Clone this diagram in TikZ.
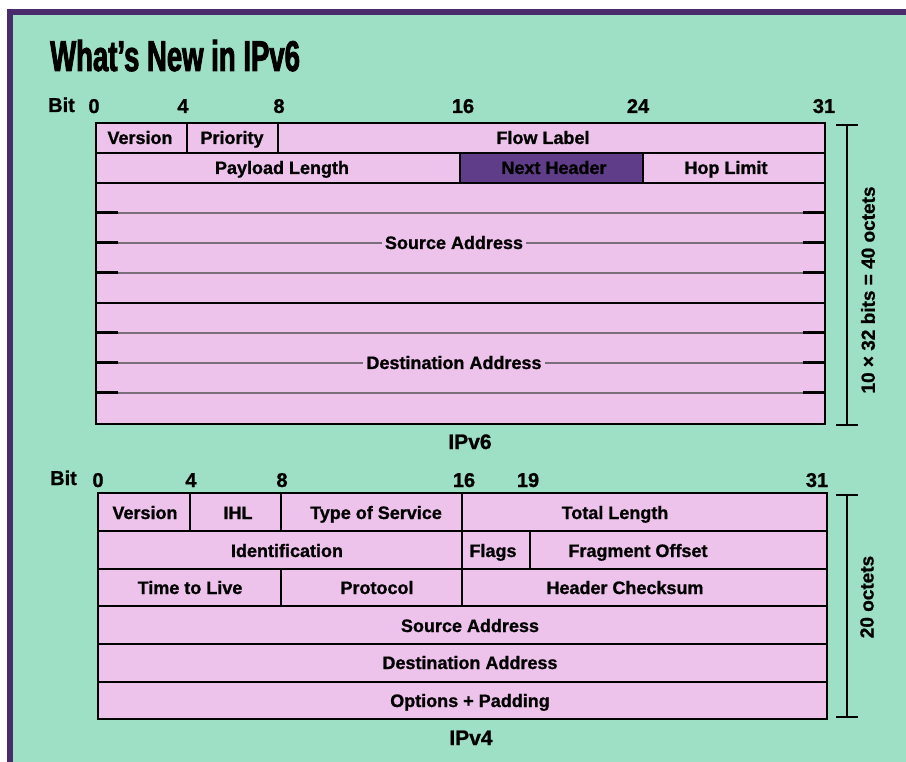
\documentclass[tikz,border=0pt]{standalone}
\usepackage{fontspec}
\setmainfont{Liberation Sans}[BoldFeatures={FakeBold=1}]
\newfontfamily\titlefont[FakeStretch=0.64, BoldFeatures={FakeBold=2}]{Liberation Sans}
\usetikzlibrary{positioning}

\definecolor{mint}{HTML}{9EE0C5}
\definecolor{frame}{HTML}{4A2C6C}
\definecolor{field}{HTML}{EDC3EB}
\definecolor{nexthdr}{HTML}{5F3D88}
\definecolor{rulegrey}{HTML}{7B6E7B}

\tikzset{
  cellline/.style={line width=2.6pt, line cap=rect},
  lbl/.style={font=\bfseries\fontsize{18}{20}\selectfont, anchor=base, inner sep=0pt},
  addr/.style={lbl, fill=field, inner xsep=3pt},
  bitno/.style={font=\bfseries\fontsize{20}{22}\selectfont, anchor=base, inner sep=0pt},
  caption/.style={font=\bfseries\fontsize{21}{24}\selectfont, anchor=base, inner sep=0pt},
  sidenote/.style={font=\bfseries\fontsize{19}{22}\selectfont, rotate=90, inner sep=0pt},
  brace/.style={line width=2.6pt},
  greyrule/.style={draw=rulegrey, line width=2pt},
  tickmark/.style={line width=3pt}
}

\begin{document}
\begin{tikzpicture}[x=1pt, y=-1pt]

  % background and frame
  \useasboundingbox (0,0) rectangle (906,762);
  \fill[white] (0,0) rectangle (906,762);
  \fill[frame] (7,9) rectangle (906,762);
  \fill[mint] (13,15) rectangle (906,762);

  \node[font=\titlefont\bfseries\fontsize{43}{48}\selectfont, anchor=base west, inner sep=0pt] (title) at (50,71) {What’s New in IPv6};

  % ---------------- IPv6 ----------------
  \node[bitno, anchor=base west] (bit6) at (48,112) {Bit};
  \node[bitno] (b6n0) at (94,113) {0};
  \node[bitno] (b6n4) at (183,113) {4};
  \node[bitno] (b6n8) at (279,113) {8};
  \node[bitno] (b6n16) at (463,113) {16};
  \node[bitno] (b6n24) at (638,113) {24};
  \node[bitno] (b6n31) at (824,113) {31};

  \fill[field] (96,123) rectangle (825,424);
  \fill[nexthdr] (460,153) rectangle (643,183);

  \foreach \y in {213,243,273,333,363,393} {
    \draw[greyrule] (118,\y) -- (803,\y);
    \draw[tickmark] (96,\y) -- (118,\y);
    \draw[tickmark] (803,\y) -- (825,\y);
  }

  \draw[cellline] (96,153) -- (825,153);
  \draw[cellline] (96,183) -- (825,183);
  \draw[cellline] (96,303) -- (825,303);
  \draw[cellline] (187,123) -- (187,153);
  \draw[cellline] (278,123) -- (278,153);
  \draw[cellline] (460,153) -- (460,183);
  \draw[cellline] (643,153) -- (643,183);
  \draw[cellline] (96,123) rectangle (825,424);

  \node[lbl] (ver6) at (140,144) {Version};
  \node[lbl] (prio) at (232,144) {Priority};
  \node[lbl] (flow) at (543,144) {Flow Label};
  \node[lbl] (paylen) at (282,174) {Payload Length};
  \node[lbl] (nxthdr) at (554,174) {Next Header};
  \node[lbl] (hoplim) at (726,174) {Hop Limit};
  \node[addr] (src6) at (454,249) {Source Address};
  \node[addr] (dst6) at (454,369) {Destination Address};

  \node[caption] (cap6) at (470,449) {IPv6};

  \coordinate (br6top) at (847,125);
  \coordinate (br6bot) at (847,425);
  \draw[brace] ([xshift=-11pt]br6top) -- ([xshift=11pt]br6top);
  \draw[brace] (br6top) -- (br6bot);
  \draw[brace] ([xshift=-11pt]br6bot) -- ([xshift=11pt]br6bot);
  \node[sidenote] (size6) at (868,290) {10 × 32 bits = 40 octets};

  % ---------------- IPv4 ----------------
  \node[bitno, anchor=base west] (bit4) at (50,485) {Bit};
  \node[bitno] (b4n0) at (98,487) {0};
  \node[bitno] (b4n4) at (191,487) {4};
  \node[bitno] (b4n8) at (282,487) {8};
  \node[bitno] (b4n16) at (464,487) {16};
  \node[bitno] (b4n19) at (528,487) {19};
  \node[bitno] (b4n31) at (817,487) {31};

  \fill[field] (98,493) rectangle (827,719);

  \foreach \y in {531,569,606,644,682}
    \draw[cellline] (98,\y) -- (827,\y);
  \draw[cellline] (190,493) -- (190,531);
  \draw[cellline] (281,493) -- (281,531);
  \draw[cellline] (281,569) -- (281,606);
  \draw[cellline] (462,493) -- (462,606);
  \draw[cellline] (530,531) -- (530,569);
  \draw[cellline] (98,493) rectangle (827,719);

  \node[lbl] (ver4) at (145,519) {Version};
  \node[lbl] (ihl) at (238,519) {IHL};
  \node[lbl] (tos) at (376,519) {Type of Service};
  \node[lbl] (totlen) at (615,519) {Total Length};
  \node[lbl] (ident) at (287,557) {Identification};
  \node[lbl] (flags) at (493,557) {Flags};
  \node[lbl] (fragoff) at (638,557) {Fragment Offset};
  \node[lbl] (ttl) at (190,594) {Time to Live};
  \node[lbl] (proto) at (377,594) {Protocol};
  \node[lbl] (chksum) at (625,594) {Header Checksum};
  \node[lbl] (src4) at (470,632) {Source Address};
  \node[lbl] (dst4) at (470,669) {Destination Address};
  \node[lbl] (opts) at (470,707) {Options + Padding};

  \node[caption] (cap4) at (471,745) {IPv4};

  \coordinate (br4top) at (847,495);
  \coordinate (br4bot) at (847,717);
  \draw[brace] ([xshift=-11pt]br4top) -- ([xshift=11pt]br4top);
  \draw[brace] (br4top) -- (br4bot);
  \draw[brace] ([xshift=-11pt]br4bot) -- ([xshift=11pt]br4bot);
  \node[sidenote] (size4) at (867,597) {20 octets};

\end{tikzpicture}
\end{document}
